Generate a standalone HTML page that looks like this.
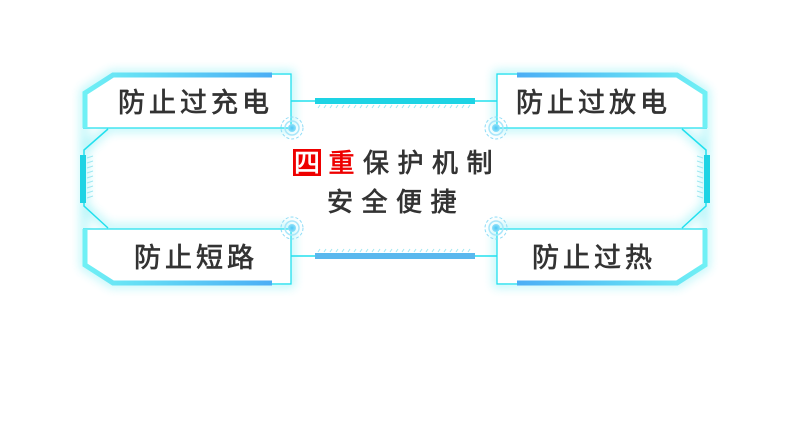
<!DOCTYPE html>
<html><head><meta charset="utf-8"><style>
html,body{margin:0;padding:0;background:#fff;}
svg{display:block;}
text{font-family:"Liberation Sans","Noto Sans CJK SC",sans-serif;}
</style></head><body>
<svg width="790" height="431" viewBox="0 0 790 431" xmlns="http://www.w3.org/2000/svg">
<defs>
<linearGradient id="gl" x1="0" x2="1"><stop offset="0" stop-color="#6ff0f5"/><stop offset="1" stop-color="#4aaef5"/></linearGradient>
<linearGradient id="gr" x1="0" x2="1"><stop offset="0" stop-color="#4aaef5"/><stop offset="1" stop-color="#6ff0f5"/></linearGradient>
<filter id="glow" x="-20%" y="-20%" width="140%" height="140%"><feGaussianBlur stdDeviation="5"/></filter>
<radialGradient id="rc"><stop offset="0" stop-color="#4dc8f5"/><stop offset="1" stop-color="#8fe0fa"/></radialGradient>
</defs>
<g filter="url(#glow)" opacity="0.45" stroke="#3ee6f0" stroke-width="6" fill="none">
<path d="M84,92 L112,74 L291,74 L291,128 L108,128 L84,150 L84,206 L108,228 L291,228 L291,284 L112,284 L84,266 Z"/>
<path d="M706,92 L678,74 L497,74 L497,128 L682,128 L706,150 L706,206 L682,228 L497,228 L497,284 L678,284 L706,266 Z"/>
</g>
<path d="M108,129 L84,150 L84,206 L108,228 M682,129 L706,150 L706,206 L682,228" stroke="#22e0ee" stroke-width="1.5" fill="none"/>
<rect x="80" y="155" width="6" height="48" fill="#1dd3e4"/>
<rect x="704" y="155" width="6" height="48" fill="#1dd3e4"/>
<g stroke="#9ee8f2" stroke-width="1">
<path d="M87,158l6,-2M87,163l6,-2M87,168l6,-2M87,173l6,-2M87,178l6,-2M87,183l6,-2M87,188l6,-2M87,193l6,-2M87,198l6,-2"/>
<path d="M703,158l-6,-2M703,163l-6,-2M703,168l-6,-2M703,173l-6,-2M703,178l-6,-2M703,183l-6,-2M703,188l-6,-2M703,193l-6,-2M703,198l-6,-2"/>
</g>
<line x1="291" y1="101" x2="497" y2="101" stroke="#22e0ee" stroke-width="1.5"/>
<rect x="315" y="98" width="160" height="6" fill="#1dd3e4"/>
<line x1="291" y1="256" x2="497" y2="256" stroke="#22e0ee" stroke-width="1.5"/>
<rect x="315" y="253" width="160" height="6" fill="#5ab8ee"/>
<g stroke="#9ee8f2" stroke-width="1">
<path d="M318,108l2,-3M324,108l2,-3M330,108l2,-3M336,108l2,-3M342,108l2,-3M348,108l2,-3M354,108l2,-3M360,108l2,-3M366,108l2,-3M372,108l2,-3M378,108l2,-3M384,108l2,-3M390,108l2,-3M396,108l2,-3M402,108l2,-3M408,108l2,-3M414,108l2,-3M420,108l2,-3M426,108l2,-3M432,108l2,-3M438,108l2,-3M444,108l2,-3M450,108l2,-3M456,108l2,-3M462,108l2,-3M468,108l2,-3"/>
<path d="M318,252l2,-3M324,252l2,-3M330,252l2,-3M336,252l2,-3M342,252l2,-3M348,252l2,-3M354,252l2,-3M360,252l2,-3M366,252l2,-3M372,252l2,-3M378,252l2,-3M384,252l2,-3M390,252l2,-3M396,252l2,-3M402,252l2,-3M408,252l2,-3M414,252l2,-3M420,252l2,-3M426,252l2,-3M432,252l2,-3M438,252l2,-3M444,252l2,-3M450,252l2,-3M456,252l2,-3M462,252l2,-3M468,252l2,-3"/>
</g>
<g fill="#fff">
<path d="M85,93 L113,75 L291,75 L291,128 L85,128 Z"/>
<path d="M705,93 L677,75 L497,75 L497,128 L705,128 Z"/>
<path d="M85,229 L291,229 L291,283 L113,283 L85,265 Z"/>
<path d="M705,229 L497,229 L497,283 L677,283 L705,265 Z"/>
</g>
<g fill="none" stroke="#22e0ee" stroke-width="1.3">
<path d="M272,74 L291,74 L291,128 L83,128"/>
<path d="M518,74 L497,74 L497,128 L707,128"/>
<path d="M83,229 L291,229 L291,284 L272,284"/>
<path d="M707,229 L497,229 L497,284 L518,284"/>
</g>
<path d="M85,128 L85,93 L113,75 L272,75" fill="none" stroke="url(#gl)" stroke-width="5"/>
<path d="M705,128 L705,93 L677,75 L517,75" fill="none" stroke="url(#gr)" stroke-width="5"/>
<path d="M85,229 L85,265 L113,283 L272,283" fill="none" stroke="url(#gl)" stroke-width="5"/>
<path d="M705,229 L705,265 L677,283 L517,283" fill="none" stroke="url(#gr)" stroke-width="5"/>
<g>
<g transform="translate(292,128)"><circle r="11" fill="none" stroke="#8fdcf7" stroke-width="1" stroke-dasharray="3 2"/><circle r="7" fill="none" stroke="#a8e6fa" stroke-width="1.5"/><circle r="4" fill="url(#rc)"/></g>
<g transform="translate(496,128)"><circle r="11" fill="none" stroke="#8fdcf7" stroke-width="1" stroke-dasharray="3 2"/><circle r="7" fill="none" stroke="#a8e6fa" stroke-width="1.5"/><circle r="4" fill="url(#rc)"/></g>
<g transform="translate(292,228)"><circle r="11" fill="none" stroke="#8fdcf7" stroke-width="1" stroke-dasharray="3 2"/><circle r="7" fill="none" stroke="#a8e6fa" stroke-width="1.5"/><circle r="4" fill="url(#rc)"/></g>
<g transform="translate(496,228)"><circle r="11" fill="none" stroke="#8fdcf7" stroke-width="1" stroke-dasharray="3 2"/><circle r="7" fill="none" stroke="#a8e6fa" stroke-width="1.5"/><circle r="4" fill="url(#rc)"/></g>
</g>
<g font-size="27" fill="#333" stroke="#333" stroke-width="0.7" letter-spacing="4">
<text x="118" y="112">防止过充电</text>
<text x="516" y="112">防止过放电</text>
<text x="134" y="267">防止短路</text>
<text x="532" y="267">防止过热</text>
</g>
<rect x="293" y="149" width="28" height="27" fill="#ee0000"/>
<g font-size="26" letter-spacing="8.5" stroke-width="0.7">
<text x="294" y="172"><tspan fill="#fff" stroke="#fff">四</tspan><tspan fill="#ee0000" stroke="#ee0000">重</tspan><tspan fill="#333" stroke="#333">保护机制</tspan></text>
<text x="327" y="211" fill="#333" stroke="#333">安全便捷</text>
</g>
</svg>
</body></html>
